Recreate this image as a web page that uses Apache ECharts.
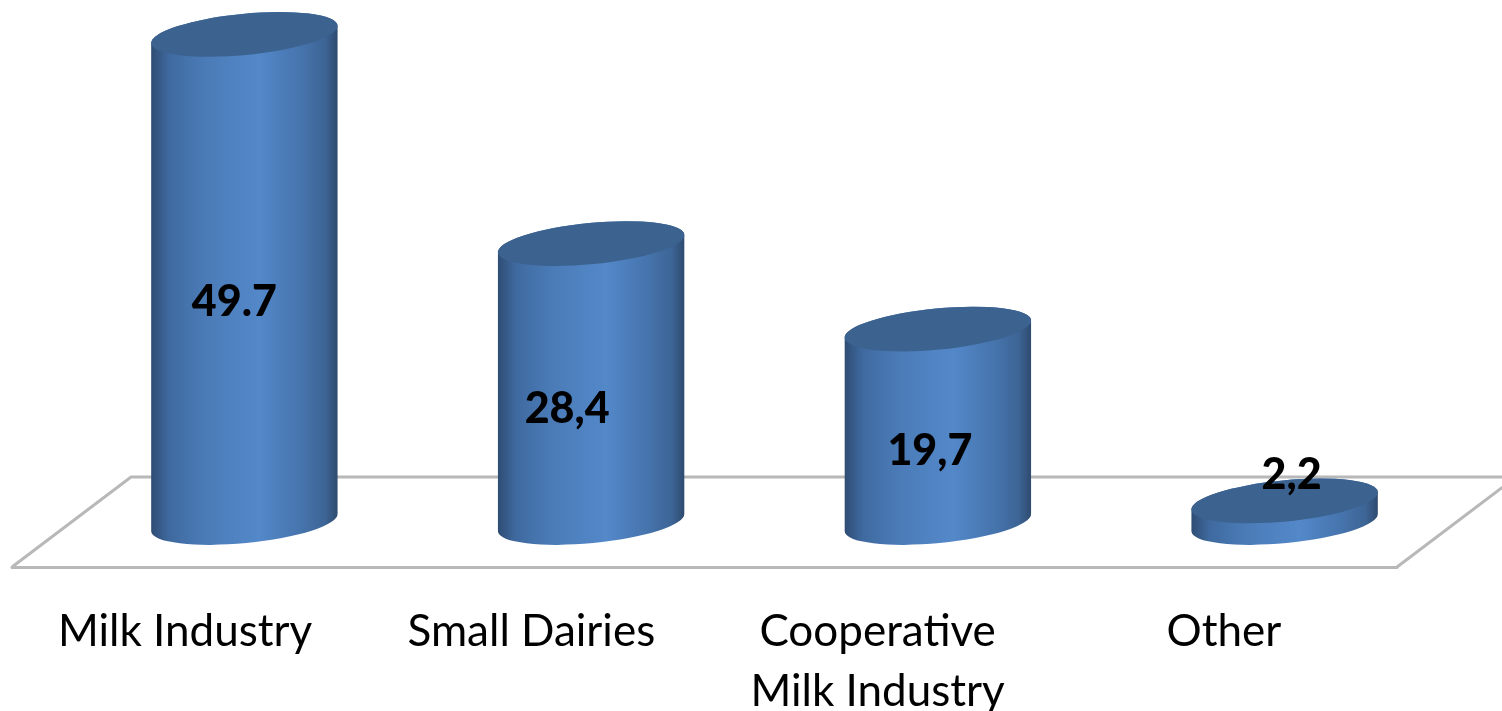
<!DOCTYPE html>
<html lang="en">
<head>
    <meta charset="UTF-8">
    <title>Milk industry share</title>
    <style>
        html, body { margin: 0; padding: 0; background: #fff; }
        #chart { width: 1502px; height: 711px; }
    </style>
</head>
<body>
<div id="chart"></div>
<script src="https://cdn.jsdelivr.net/npm/echarts@6/dist/echarts.min.js"></script>
<script type="text/javascript">
    var categories = ['Milk Industry', 'Small Dairies', 'Cooperative\nMilk Industry', 'Other'];
    var shares = [49.7, 28.4, 19.7, 2.2];
    var shareLabels = ['49.7', '28,4', '19,7', '2,2'];

    // hand placed, the labels in the picture don't follow a rule
    var labelNudge = [[-10, 268], [-24, 166], [-8, 122], [7, -26]];

    var TILT = -5.5;
    var FLATNESS = 0.22;

    function ellipseArc(rx, ry, x, y) {
        return 'A' + rx + ' ' + ry + ' ' + TILT + ' 0 0 ' + x + ' ' + y;
    }

    function drawCylinder(params, api) {
        var i = api.value(0);
        var base = api.coord([i, 0]);
        var top = api.coord([i, api.value(1)]);
        var rx = api.size([1, 0])[0] * 0.27;
        var ry = rx * FLATNESS;
        var dy = rx * Math.sin(TILT * Math.PI / 180);
        var dx = rx * Math.cos(TILT * Math.PI / 180);
        var cx = base[0];

        var body = 'M' + (cx - dx) + ' ' + (top[1] - dy)
            + 'L' + (cx - dx) + ' ' + (base[1] - dy)
            + ellipseArc(rx, ry, cx + dx, base[1] + dy)
            + 'L' + (cx + dx) + ' ' + (top[1] + dy)
            + ellipseArc(rx, ry, cx - dx, top[1] - dy) + 'Z';
        var lid = 'M' + (cx - dx) + ' ' + (top[1] - dy)
            + ellipseArc(rx, ry, cx + dx, top[1] + dy)
            + ellipseArc(rx, ry, cx - dx, top[1] - dy) + 'Z';

        return {
            type: 'group',
            children: [{
                type: 'path',
                shape: { pathData: body },
                style: {
                    fill: new echarts.graphic.LinearGradient(0, 0, 1, 0, [
                        { offset: 0, color: '#2e4c72' },
                        { offset: 0.1, color: '#3f6aa0' },
                        { offset: 0.3, color: '#4b7cb8' },
                        { offset: 0.58, color: '#5388c9' },
                        { offset: 0.8, color: '#4674ad' },
                        { offset: 0.93, color: '#3d6596' },
                        { offset: 1, color: '#2e4a6e' }
                    ])
                }
            }, {
                type: 'path',
                shape: { pathData: lid },
                style: { fill: '#3c6390' }
            }, {
                type: 'text',
                z2: 10,
                style: {
                    text: shareLabels[i],
                    x: cx + labelNudge[i][0],
                    y: top[1] + labelNudge[i][1],
                    align: 'center',
                    verticalAlign: 'middle',
                    font: '900 43px Lato',
                    fill: '#000'
                }
            }]
        };
    }

    var myChart = echarts.init(document.getElementById('chart'));
    myChart.setOption({
        animation: false,
        graphic: [{
            type: 'polyline',
            silent: true,
            shape: { points: [[12, 567], [131, 477], [1530, 477]] },
            style: { stroke: '#b8b8b8', lineWidth: 3, fill: null }
        }, {
            type: 'line',
            silent: true,
            shape: { x1: 1397, y1: 567, x2: 1516, y2: 477 },
            style: { stroke: '#b8b8b8', lineWidth: 3 }
        }],
        grid: [
            { left: 71, right: 44, top: 31.5, bottom: 188.5, outerBoundsMode: 'none' },
            { left: 12, right: 105, top: 560, height: 7, outerBoundsMode: 'none' }
        ],
        xAxis: [{
            type: 'category',
            gridIndex: 0,
            data: categories,
            show: false
        }, {
            type: 'category',
            gridIndex: 1,
            data: categories,
            axisLine: { onZero: false, lineStyle: { color: '#b8b8b8', width: 3 } },
            axisTick: { show: false },
            axisLabel: {
                interval: 0,
                margin: 35,
                color: '#000',
                fontFamily: 'Lato',
                fontSize: 44,
                lineHeight: 60
            }
        }],
        yAxis: [
            { type: 'value', gridIndex: 0, min: 0, max: 50, show: false },
            { type: 'value', gridIndex: 1, show: false }
        ],
        series: [{
            type: 'custom',
            xAxisIndex: 0,
            yAxisIndex: 0,
            clip: false,
            renderItem: drawCylinder,
            data: shares.map(function (v, i) { return [i, v]; })
        }]
    });
</script>
</body>
</html>
